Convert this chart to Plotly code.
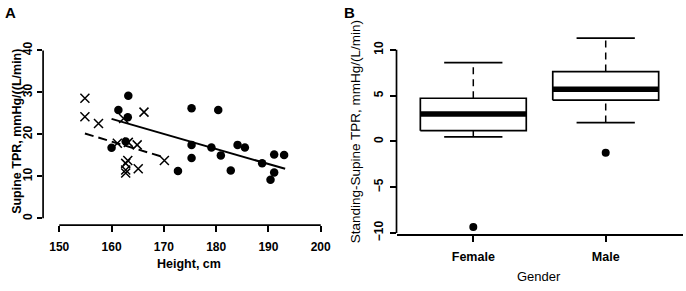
import plotly.graph_objects as go

# ---------------- Panel A data ----------------
male_height = [160.0, 161.3, 163.2, 163.1, 162.7, 172.7, 175.3, 175.3, 175.3, 179.1,
               180.4, 180.9, 182.8, 184.1, 185.5, 188.8, 191.1, 193.0, 191.1, 190.4]
male_tpr = [16.8, 25.8, 29.2, 24.1, 18.3, 11.3, 26.2, 17.5, 14.4, 16.9,
            25.8, 15.0, 11.4, 17.5, 16.9, 13.1, 15.2, 15.1, 10.9, 9.2]
female_height = [154.9, 154.9, 157.5, 166.2, 161.1, 163.2, 164.9, 165.1, 170.1,
                 163.1, 162.7, 162.7, 162.7, 162.3]
female_tpr = [28.6, 24.2, 22.6, 25.3, 17.9, 18.1, 17.5, 11.8, 13.8,
              13.8, 13.1, 11.5, 10.8, 23.8]
male_fit_x = [160.0, 193.2]
male_fit_y = [23.7, 11.8]
female_fit_x = [154.9, 169.9]
female_fit_y = [20.2, 14.6]
a_xticks = [150, 160, 170, 180, 190, 200]
a_yticks = [0, 10, 20, 30, 40]

# ---------------- Panel B data ----------------
genders = ["Female", "Male"]
b_q1 = [1.17, 4.5]
b_median = [3.0, 5.7]
b_q3 = [4.71, 7.62]
b_lo = [0.5, 2.05]
b_hi = [8.6, 11.27]
b_outlier = [-9.35, -1.25]
b_yticks = [-10, -5, 0, 5, 10]

FONT = "Liberation Sans, Arial, sans-serif"
BOX_HALF = 0.4
CAP_HALF = 0.22

fig = go.Figure()

# Panel A points
fig.add_trace(go.Scatter(x=male_height, y=male_tpr, mode="markers",
                         marker=dict(symbol="circle", size=8.5, color="black"),
                         xaxis="x", yaxis="y", showlegend=False))
fig.add_trace(go.Scatter(x=female_height, y=female_tpr, mode="markers",
                         marker=dict(symbol="x-thin", size=9, color="black",
                                     line=dict(width=1.5, color="black")),
                         xaxis="x", yaxis="y", showlegend=False))
fig.add_trace(go.Scatter(x=male_fit_x, y=male_fit_y, mode="lines",
                         line=dict(color="black", width=2),
                         xaxis="x", yaxis="y", showlegend=False))
fig.add_trace(go.Scatter(x=female_fit_x, y=female_fit_y, mode="lines",
                         line=dict(color="black", width=2, dash="9px,5px"),
                         xaxis="x", yaxis="y", showlegend=False))

# Panel B boxes
for i, g in enumerate(genders):
    c = i + 1
    fig.add_trace(go.Scatter(x=[c, c], y=[b_q3[i], b_hi[i]], mode="lines",
                             line=dict(color="black", width=1.5, dash="7px,5px"),
                             xaxis="x2", yaxis="y2", showlegend=False))
    fig.add_trace(go.Scatter(x=[c, c], y=[b_lo[i], b_q1[i]], mode="lines",
                             line=dict(color="black", width=1.5, dash="7px,5px"),
                             xaxis="x2", yaxis="y2", showlegend=False))
    for v in (b_hi[i], b_lo[i]):
        fig.add_trace(go.Scatter(x=[c - CAP_HALF, c + CAP_HALF], y=[v, v], mode="lines",
                                 line=dict(color="black", width=1.7),
                                 xaxis="x2", yaxis="y2", showlegend=False))
    fig.add_trace(go.Scatter(x=[c - BOX_HALF, c + BOX_HALF, c + BOX_HALF, c - BOX_HALF, c - BOX_HALF],
                             y=[b_q1[i], b_q1[i], b_q3[i], b_q3[i], b_q1[i]], mode="lines",
                             fill="toself", fillcolor="white",
                             line=dict(color="black", width=1.7),
                             xaxis="x2", yaxis="y2", showlegend=False))
    fig.add_trace(go.Scatter(x=[c - BOX_HALF, c + BOX_HALF], y=[b_median[i], b_median[i]], mode="lines",
                             line=dict(color="black", width=5.5),
                             xaxis="x2", yaxis="y2", showlegend=False))
    fig.add_trace(go.Scatter(x=[c], y=[b_outlier[i]], mode="markers",
                             marker=dict(symbol="circle", size=8, color="black"),
                             xaxis="x2", yaxis="y2", showlegend=False))

tickfont_b = dict(family=FONT, size=12, color="black", weight="bold")

fig.update_layout(
    width=686, height=291,
    margin=dict(l=0, r=0, t=0, b=0),
    paper_bgcolor="white", plot_bgcolor="white",
    font=dict(family=FONT, color="black"),
    xaxis=dict(domain=[0.0628, 0.4835], range=[146.9, 202.1],
               tickvals=a_xticks, ticks="outside", ticklen=6, tickwidth=1.5,
               tickcolor="black", showgrid=False, zeroline=False, showline=False,
               tickfont=tickfont_b, ticklabelstandoff=5, anchor="y", fixedrange=True),
    yaxis=dict(domain=[0.2089, 0.8522], range=[-1.6, 41.6],
               tickvals=a_yticks, ticks="outside", ticklen=5, tickwidth=1.5,
               tickcolor="black", tickangle=-90, showgrid=False, zeroline=False,
               showline=False, tickfont=tickfont_b, anchor="x", fixedrange=True),
    xaxis2=dict(domain=[0.578, 0.9949], range=[0.42, 2.58],
                tickvals=[1, 2], ticktext=genders, ticks="outside", ticklen=6,
                tickwidth=1.5, tickcolor="black", showgrid=False, zeroline=False,
                showline=True, linecolor="black", linewidth=1.7,
                tickfont=dict(family=FONT, size=12.5, color="black", weight="bold"),
                ticklabelstandoff=4, anchor="y2", fixedrange=True),
    yaxis2=dict(domain=[0.1773, 0.8993], range=[-10.12, 12.12],
                tickvals=b_yticks, ticks="outside", ticklen=6, tickwidth=1.5,
                tickcolor="black", tickangle=-90, showgrid=False, zeroline=False,
                showline=False, tickfont=tickfont_b, ticklabelstandoff=2,
                anchor="x2", fixedrange=True),
)

shapes = [
    dict(type="line", xref="x", yref="y domain", x0=a_xticks[0], x1=a_xticks[-1], y0=0, y1=0,
         line=dict(color="black", width=1.7)),
    dict(type="line", xref="x domain", yref="y", x0=0, x1=0, y0=a_yticks[0], y1=a_yticks[-1],
         line=dict(color="black", width=1.7)),
    dict(type="line", xref="x2 domain", yref="y2", x0=0, x1=0, y0=b_yticks[0], y1=b_yticks[-1],
         line=dict(color="black", width=1.7)),
]
fig.update_layout(shapes=shapes)


def ann(text, px, py, size, bold, angle=0):
    f = dict(family=FONT, size=size, color="black")
    if bold:
        f["weight"] = "bold"
    return dict(text=text, x=px / 686, y=1 - py / 291, xref="paper", yref="paper",
                xanchor="center", yanchor="middle", textangle=angle,
                showarrow=False, font=f)


annotations = [
    ann("A", 10, 11, 15, True),
    ann("B", 349, 11, 15, True),
    ann("Height, cm", 189, 270, 12.5, True),
    ann("Supine TPR, mmHg/((L/min)", 17, 134, 12.5, True, -90),
    ann("Gender", 539, 283, 13, False),
    ann("Standing-Supine TPR, mmHg/(L/min)", 355, 134.5, 13.5, False, -90),
]
fig.update_layout(annotations=annotations)

fig.write_html("out.html", config={"displayModeBar": False},
               post_script="document.body.style.margin='0';document.body.style.overflow='hidden';")
